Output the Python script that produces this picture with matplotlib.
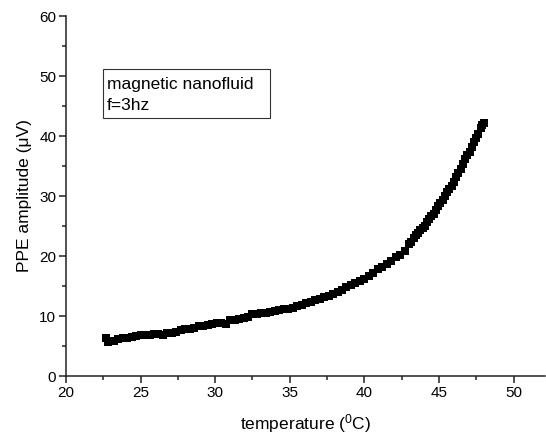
import matplotlib
matplotlib.use("Agg")
import matplotlib.pyplot as plt
from matplotlib.patches import Rectangle
from matplotlib.ticker import MultipleLocator

plt.rcParams["font.family"] = ["Liberation Sans", "DejaVu Sans"]
plt.rcParams["mathtext.fontset"] = "custom"
plt.rcParams["mathtext.rm"] = "Liberation Sans"

# temperature (C) and PPE amplitude (uV)
temperature = [22.7, 22.8, 22.9, 23.2, 23.5, 23.8, 24.1, 24.4, 24.7, 25.0,
               25.3, 25.6, 25.9, 26.2, 26.5, 26.8, 27.1, 27.4, 27.7, 28.0,
               28.3, 28.6, 28.9, 29.2, 29.5, 29.8, 30.1, 30.4, 30.7, 31.0,
               31.3, 31.6, 31.9, 32.2, 32.5, 32.8, 33.1, 33.4, 33.7, 34.0,
               34.3, 34.6, 34.9, 35.2, 35.5, 35.8, 36.1, 36.4, 36.7, 37.0,
               37.3, 37.6, 37.9, 38.2, 38.5, 38.8, 39.1, 39.4, 39.7, 40.0,
               40.3, 40.6, 40.9, 41.2, 41.5, 41.8, 42.1, 42.4, 42.7, 43.0,
               43.15, 43.3, 43.45, 43.6, 43.75, 43.9, 44.05, 44.2, 44.35, 44.5,
               44.65, 44.8, 44.95, 45.1, 45.25, 45.4, 45.55, 45.7, 45.85, 46.0,
               46.15, 46.3, 46.45, 46.6, 46.75, 46.9, 47.05, 47.2, 47.35, 47.5,
               47.65, 47.8, 47.9, 48.0]
amplitude = [6.4, 5.6, 5.8, 5.9, 6.1, 6.3, 6.4, 6.5, 6.6, 6.8,
             6.8, 6.9, 7.0, 7.0, 6.8, 7.2, 7.2, 7.4, 7.6, 7.8,
             7.9, 8.0, 8.3, 8.4, 8.5, 8.7, 8.8, 8.8, 8.7, 9.4,
             9.3, 9.5, 9.7, 9.9, 10.4, 10.3, 10.5, 10.5, 10.7, 10.8,
             11.0, 11.1, 11.2, 11.4, 11.6, 11.8, 12.1, 12.4, 12.6, 12.9,
             13.1, 13.4, 13.7, 14.0, 14.4, 14.8, 15.1, 15.5, 15.8, 16.2,
             16.6, 17.2, 17.8, 18.2, 18.6, 19.2, 19.8, 20.2, 20.9, 22.0,
             22.4, 23.0, 23.5, 23.8, 24.3, 24.6, 25.0, 25.6, 26.1, 26.6,
             27.0, 27.6, 28.3, 28.8, 29.3, 30.0, 30.6, 31.2, 31.7, 32.4,
             33.1, 33.8, 34.5, 35.3, 36.1, 36.8, 37.4, 38.2, 39.0, 39.6,
             40.4, 41.3, 41.8, 42.2]

fig = plt.figure(figsize=(5.46, 4.34), dpi=100)
ax = fig.add_axes([0.1209, 0.1336, 0.877, 0.8295])

ax.plot(temperature, amplitude, linestyle="none", marker="s",
        markersize=5.8, color="black", markeredgewidth=0)

ax.set_xlim(20, 52.1)
ax.set_ylim(0, 60)
ax.xaxis.set_major_locator(MultipleLocator(5))
ax.xaxis.set_minor_locator(MultipleLocator(2.5))
ax.yaxis.set_major_locator(MultipleLocator(10))
ax.yaxis.set_minor_locator(MultipleLocator(5))

for side in ("top", "right"):
    ax.spines[side].set_visible(False)
for side in ("left", "bottom"):
    ax.spines[side].set_linewidth(1.1)
    ax.spines[side].set_color("#222222")

ax.tick_params(which="major", direction="out", length=5, width=1.1,
               labelsize=11, color="#222222", pad=2)
ax.tick_params(which="minor", direction="out", length=3, width=1.1,
               color="#222222")

ax.set_xlabel(r"temperature ($\mathregular{^0}$C)", fontsize=12.5, labelpad=9)
ax.set_ylabel("PPE amplitude (\u03bcV)", fontsize=12.5, labelpad=5)

ax.add_patch(Rectangle((0.078, 0.716), 0.348, 0.136, transform=ax.transAxes,
                       facecolor="white", edgecolor="#333333", linewidth=0.8))
ax.text(0.085, 0.797, "magnetic nanofluid", transform=ax.transAxes,
        ha="left", va="baseline", fontsize=12.5)
ax.text(0.085, 0.739, "f=3hz", transform=ax.transAxes,
        ha="left", va="baseline", fontsize=12.5)

fig.savefig("out.png", dpi=100)
